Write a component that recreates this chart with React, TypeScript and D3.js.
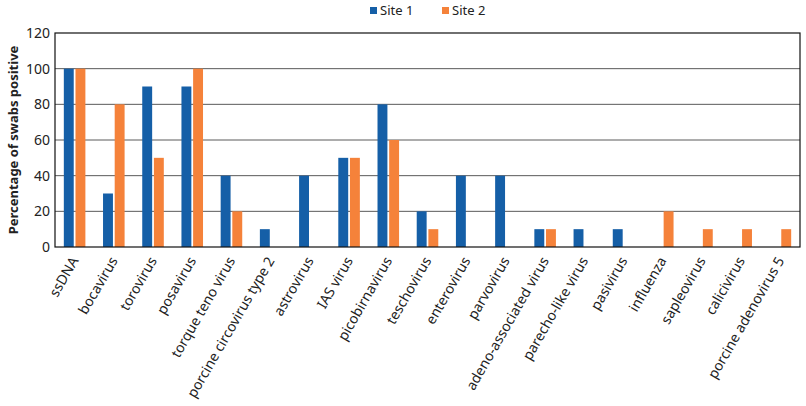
import React, { useEffect, useRef } from 'react';
import * as d3 from 'd3';

const viruses = [
  'ssDNA',
  'bocavirus',
  'torovirus',
  'posavirus',
  'torque teno virus',
  'porcine circovirus type 2',
  'astrovirus',
  'IAS virus',
  'picobirnavirus',
  'teschovirus',
  'enterovirus',
  'parvovirus',
  'adeno-associated virus',
  'parecho-like virus',
  'pasivirus',
  'influenza',
  'sapleovirus',
  'calicivirus',
  'porcine adenovirus 5',
];
const site1 = [100, 30, 90, 90, 40, 10, 40, 50, 80, 20, 40, 40, 10, 10, 10, 0, 0, 0, 0];
const site2 = [100, 80, 50, 100, 20, 0, 0, 50, 60, 10, 0, 0, 10, 0, 0, 20, 10, 10, 10];
const seriesNames = ['Site 1', 'Site 2'];
const yTicks = [0, 20, 40, 60, 80, 100, 120];

const colors = ['#155fa7', '#f5823a'];
const font = "'Noto Sans', sans-serif";

export default function App() {
  const svgRef = useRef<SVGSVGElement>(null);

  const width = 806;
  const height = 406;
  const margin = { left: 55, right: 6, top: 33, bottom: 159 };
  const innerW = width - margin.left - margin.right;
  const innerH = height - margin.top - margin.bottom;

  useEffect(() => {
    const svg = d3.select(svgRef.current);
    svg.selectAll('*').remove();

    const x0 = d3
      .scaleBand()
      .domain(viruses)
      .range([0, innerW])
      .paddingInner(0.45)
      .paddingOuter(0.225);
    const x1 = d3
      .scaleBand()
      .domain(seriesNames)
      .range([0, x0.bandwidth()])
      .paddingInner(0.15);
    const y = d3.scaleLinear().domain([0, 120]).range([innerH, 0]);

    const g = svg
      .append('g')
      .attr('transform', `translate(${margin.left},${margin.top})`);

    // gridlines
    g.append('g')
      .selectAll('line')
      .data(yTicks.filter((t) => t > 0 && t < 120))
      .enter()
      .append('line')
      .attr('x1', 0)
      .attr('x2', innerW)
      .attr('y1', (d) => y(d))
      .attr('y2', (d) => y(d))
      .style('stroke', '#5a5a5a')
      .style('stroke-width', 1);

    const rows = viruses.map((v, i) => ({ v, vals: [site1[i], site2[i]] }));

    const groups = g
      .append('g')
      .selectAll('g')
      .data(rows)
      .enter()
      .append('g')
      .attr('transform', (d) => `translate(${x0(d.v)},0)`);

    groups
      .selectAll('rect')
      .data((d) => d.vals.map((val, k) => ({ key: seriesNames[k], val, k })))
      .enter()
      .filter((d) => d.val > 0)
      .append('rect')
      .attr('x', (d) => x1(d.key)!)
      .attr('y', (d) => y(d.val))
      .attr('width', x1.bandwidth())
      .attr('height', (d) => innerH - y(d.val))
      .style('fill', (d) => colors[d.k]);

    // frame
    g.append('rect')
      .attr('x', 0)
      .attr('y', 0)
      .attr('width', innerW)
      .attr('height', innerH)
      .style('fill', 'none')
      .style('stroke', '#111')
      .style('stroke-width', 1.2);

    // y axis
    const yAxis = d3
      .axisLeft(y)
      .tickValues(yTicks)
      .tickSize(0)
      .tickPadding(5);
    const ya = g.append('g').call(yAxis);
    ya.select('.domain').remove();
    ya.selectAll('text')
      .style('font-family', font)
      .style('font-size', '14px')
      .style('fill', '#222');

    // x labels
    g.append('g')
      .selectAll('text')
      .data(viruses)
      .enter()
      .append('text')
      .attr(
        'transform',
        (d) => `translate(${x0(d)! + x0.bandwidth() / 2},${innerH + 11}) rotate(-60)`
      )
      .attr('text-anchor', 'end')
      .attr('dy', '0.35em')
      .style('font-family', font)
      .style('font-size', '14px')
      .style('fill', '#222')
      .text((d) => d);

    // y title
    svg
      .append('text')
      .attr('transform', `translate(18,${margin.top + innerH / 2}) rotate(-90)`)
      .attr('text-anchor', 'middle')
      .style('font-family', font)
      .style('font-size', '13px')
      .style('font-weight', 'bold')
      .style('fill', '#222')
      .text('Percentage of swabs positive');

    // legend
    const legend = svg.append('g');
    const legendX = [370, 442];
    seriesNames.forEach((name, k) => {
      legend
        .append('rect')
        .attr('x', legendX[k])
        .attr('y', 7)
        .attr('width', 7)
        .attr('height', 7)
        .style('fill', colors[k]);
      legend
        .append('text')
        .attr('x', legendX[k] + 10)
        .attr('y', 15)
        .style('font-family', font)
        .style('font-size', '13px')
        .style('fill', '#222')
        .text(name);
    });
  }, []);

  return (
    <svg
      ref={svgRef}
      width={width}
      height={height}
      style={{ position: 'absolute', left: 0, top: 0, background: '#fff' }}
    />
  );
}
